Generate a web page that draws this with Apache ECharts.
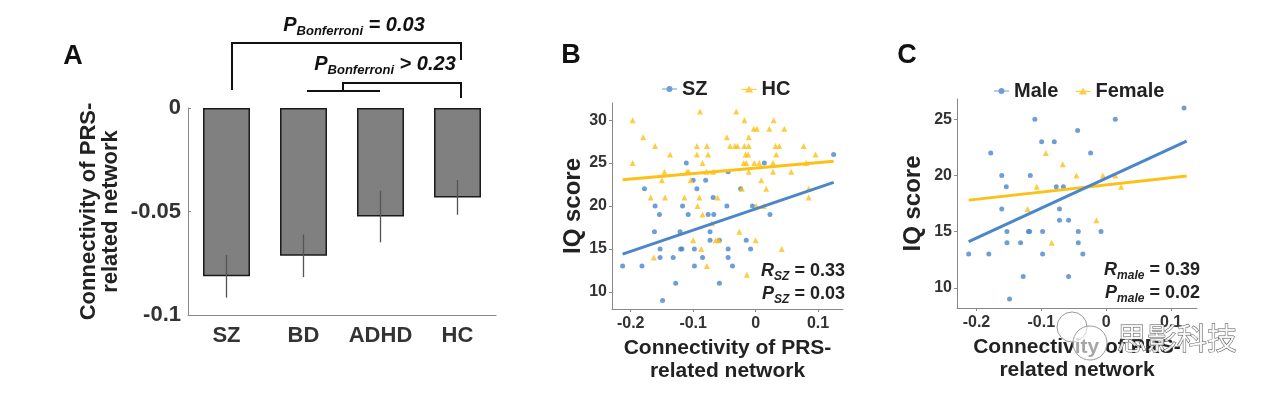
<!DOCTYPE html>
<html>
<head>
<meta charset="utf-8">
<script src="https://cdn.jsdelivr.net/npm/echarts@6/dist/echarts.min.js"></script>
<style>
  html, body { margin: 0; padding: 0; background: #fff; }
  #main { width: 1280px; height: 397px; }
</style>
</head>
<body>
<div id="main"></div>
<script>
// panel A: group means and error bars
const barCats = ['SZ', 'BD', 'ADHD', 'HC']
const barMeans = [-0.0813, -0.0714, -0.0524, -0.0432]
const barErr = [0.0103, 0.0103, 0.0125, 0.0084]

// shared tick labels
const xTicks = [-0.2, -0.1, 0, 0.1]
const yTicksB = [10, 15, 20, 25, 30]
const yTicksC = [10, 15, 20, 25]

// panel B: IQ vs connectivity
const szPoints = [
  [-0.213, 13], [-0.182, 13], [-0.178, 22], [-0.161, 20], [-0.154, 19], [-0.162, 17], [-0.153, 15],
  [-0.153, 14], [-0.132, 14], [-0.128, 11], [-0.149, 9], [-0.111, 25], [-0.117, 20], [-0.108, 19],
  [-0.121, 17], [-0.120, 15], [-0.118, 15], [-0.100, 23], [-0.094, 22], [-0.098, 15], [-0.098, 13],
  [-0.085, 14], [-0.080, 23], [-0.076, 19], [-0.067, 19], [-0.068, 21], [-0.073, 17], [-0.073, 16],
  [-0.058, 16], [-0.058, 11], [-0.046, 20], [-0.044, 24], [-0.044, 15], [-0.044, 14], [-0.037, 13],
  [-0.024, 22], [-0.015, 16], [-0.008, 15], [-0.005, 20], [0.014, 25], [0.023, 19], [0.125, 26]
]
const hcPoints = [
  [-0.197, 30], [-0.197, 25], [-0.180, 28], [-0.161, 27], [-0.168, 21], [-0.163, 14], [-0.145, 21],
  [-0.146, 24], [-0.150, 23], [-0.137, 26], [-0.114, 21], [-0.110, 24], [-0.107, 24], [-0.104, 23],
  [-0.100, 16], [-0.094, 27], [-0.094, 26], [-0.089, 31], [-0.090, 21], [-0.093, 20], [-0.085, 25],
  [-0.085, 19], [-0.087, 15], [-0.078, 13], [-0.078, 27], [-0.076, 26], [-0.079, 24], [-0.068, 24],
  [-0.070, 18], [-0.064, 16], [-0.061, 21], [-0.059, 16], [-0.046, 28], [-0.041, 27], [-0.031, 31],
  [-0.033, 27], [-0.029, 27], [-0.026, 17], [-0.022, 22], [-0.018, 30], [-0.018, 27], [-0.016, 26],
  [-0.012, 26], [-0.019, 25], [-0.015, 25], [-0.011, 28], [-0.011, 27], [-0.011, 24], [-0.014, 12],
  [-0.003, 29], [0.002, 29], [-0.002, 25], [0.006, 25], [0.001, 20], [0.000, 16], [0.009, 23],
  [0.017, 22], [0.013, 20], [0.022, 29], [0.029, 30], [0.028, 25], [0.028, 24], [0.032, 27],
  [0.038, 27], [0.033, 26], [0.042, 15], [0.046, 29], [0.057, 24], [0.077, 27], [0.081, 25],
  [0.085, 22], [0.085, 21], [0.096, 26]
]
const szFit = [[-0.213, 14.4], [0.125, 22.75]]
const hcFit = [[-0.213, 23.05], [0.125, 25.2]]

// panel C: IQ vs connectivity by sex
const malePoints = [
  [-0.212, 13], [-0.181, 13], [-0.178, 22], [-0.161, 20], [-0.154, 19], [-0.161, 17], [-0.153, 15],
  [-0.153, 14], [-0.132, 14], [-0.128, 11], [-0.149, 9], [-0.110, 25], [-0.117, 20], [-0.120, 15],
  [-0.118, 15], [-0.0995, 23], [-0.098, 15], [-0.098, 13], [-0.080, 23], [-0.077, 19], [-0.066, 19],
  [-0.072, 17], [-0.072, 16], [-0.058, 16], [-0.058, 11], [-0.044, 24], [-0.043, 15], [-0.043, 14],
  [-0.036, 13], [-0.024, 22], [-0.008, 15], [0.014, 25], [0.120, 26]
]
const femalePoints = [
  [-0.121, 17], [-0.107, 19], [-0.093, 22], [-0.084, 14], [-0.067, 21], [-0.046, 20],
  [-0.015, 16], [-0.005, 20], [0.014, 20], [0.023, 19]
]
const maleFit = [[-0.212, 14.1], [0.124, 23.05]]
const femaleFit = [[-0.212, 17.8], [0.124, 19.95]]

const FONT = "'Liberation Sans', Arial, sans-serif"
const BLUE = '#4a86c8'
const YELLOW = '#fbc117'
const circleIcon = 'path://M0,4.2H20V5.8H0Z M14,5A4,4 0 1,1 6,5A4,4 0 1,1 14,5Z'
const triIcon = 'path://M0,4.2H20V5.8H0Z M10,0L15.5,9H4.5Z'

const chart = echarts.init(document.getElementById('main'))

function valueXAxis (grid) {
  return {
    type: 'value', gridIndex: grid, min: -0.23, max: 0.14,
    name: 'Connectivity of PRS-\nrelated network', nameLocation: 'middle', nameGap: 28,
    nameTextStyle: { fontFamily: FONT, fontWeight: 'bold', fontSize: 21, color: '#222', lineHeight: 23 },
    axisLine: { onZero: false, lineStyle: { color: '#888' } },
    axisTick: { customValues: xTicks, length: 3, lineStyle: { color: '#888' } },
    axisLabel: { customValues: xTicks, margin: 7, fontFamily: FONT, fontWeight: 'bold', fontSize: 16, color: '#333' },
    splitLine: { show: false }
  }
}

function valueYAxis (grid, min, max, ticks, gap) {
  return {
    type: 'value', gridIndex: grid, min: min, max: max,
    name: 'IQ score', nameLocation: 'middle', nameGap: gap, nameRotate: 90,
    nameTextStyle: { fontFamily: FONT, fontWeight: 'bold', fontSize: 24, color: '#222' },
    axisLine: { show: true, onZero: false, lineStyle: { color: '#888' } },
    axisTick: { show: true, customValues: ticks, length: 3, lineStyle: { color: '#888' } },
    axisLabel: { customValues: ticks, margin: 5, fontFamily: FONT, fontWeight: 'bold', fontSize: 16, color: '#333' },
    splitLine: { show: false }
  }
}

function statText (x, y, letter, sub, val) {
  return {
    type: 'text', x: x, y: y,
    style: {
      text: '{a|' + letter + '}{b|' + sub + '}{c| = ' + val + '}',
      align: 'right', verticalAlign: 'middle',
      rich: {
        a: { fontFamily: FONT, fontWeight: 'bold', fontStyle: 'italic', fontSize: 18, fill: '#222' },
        b: { fontFamily: FONT, fontWeight: 'bold', fontStyle: 'italic', fontSize: 12, fill: '#222', padding: [12, 0, 0, 0] },
        c: { fontFamily: FONT, fontWeight: 'bold', fontSize: 18, fill: '#222' }
      }
    }
  }
}

function pText (x, y, rel, val) {
  return {
    type: 'text', x: x, y: y,
    style: {
      text: '{a|P}{b|Bonferroni}{c| ' + rel + ' ' + val + '}',
      align: 'center', verticalAlign: 'middle',
      rich: {
        a: { fontFamily: FONT, fontWeight: 'bold', fontStyle: 'italic', fontSize: 20, fill: '#111' },
        b: { fontFamily: FONT, fontWeight: 'bold', fontStyle: 'italic', fontSize: 13, fill: '#111', padding: [12, 0, 0, 0] },
        c: { fontFamily: FONT, fontWeight: 'bold', fontStyle: 'italic', fontSize: 20, fill: '#111' }
      }
    }
  }
}

const panelLetter = (t, x, y) => ({
  type: 'text', x: x, y: y,
  style: { text: t, fontFamily: FONT, fontWeight: 'bold', fontSize: 27, fill: '#111', align: 'center', verticalAlign: 'middle' }
})

chart.setOption({
  animation: false,
  backgroundColor: '#fff',
  grid: [
    { left: 188, top: 108, width: 308, height: 207 },
    { left: 612, top: 103, width: 231, height: 206 },
    { left: 957, top: 99, width: 240, height: 209 }
  ],
  legend: [
    {
      data: [{ name: 'SZ', icon: circleIcon }, { name: 'HC', icon: triIcon }],
      left: 662, top: 79, padding: 0, itemWidth: 15, itemHeight: 10, itemGap: 34,
      textStyle: { fontFamily: FONT, fontWeight: 'bold', fontSize: 20, color: '#222' }
    },
    {
      data: [{ name: 'Male', icon: circleIcon }, { name: 'Female', icon: triIcon }],
      left: 994, top: 81, padding: 0, itemWidth: 15, itemHeight: 10, itemGap: 17,
      textStyle: { fontFamily: FONT, fontWeight: 'bold', fontSize: 20, color: '#222' }
    }
  ],
  xAxis: [
    {
      type: 'category', gridIndex: 0, data: barCats,
      axisLine: { onZero: false, lineStyle: { color: '#888' } },
      axisTick: { alignWithLabel: true, inside: true, length: 3, lineStyle: { color: '#888' } },
      axisLabel: { interval: 0, margin: 10, fontFamily: FONT, fontWeight: 'bold', fontSize: 22, color: '#333' }
    },
    valueXAxis(1),
    valueXAxis(2)
  ],
  yAxis: [
    {
      type: 'value', gridIndex: 0, min: -0.1, max: 0, interval: 0.05,
      name: 'Connectivity of PRS-\nrelated network', nameLocation: 'middle', nameRotate: 90, nameGap: 66,
      nameTextStyle: { fontFamily: FONT, fontWeight: 'bold', fontSize: 22, color: '#222', lineHeight: 22 },
      axisLine: { show: true, onZero: false, lineStyle: { color: '#888' } },
      axisTick: { show: true, inside: true, length: 3, lineStyle: { color: '#888' } },
      axisLabel: { margin: 7, fontFamily: FONT, fontWeight: 'bold', fontSize: 22, color: '#333' },
      splitLine: { show: false }
    },
    valueYAxis(1, 8, 32, yTicksB, 26),
    valueYAxis(2, 8.2, 26.8, yTicksC, 32)
  ],
  series: [
    {
      type: 'bar', xAxisIndex: 0, yAxisIndex: 0, data: barMeans, barWidth: '61%',
      itemStyle: { color: '#808080', borderColor: '#1a1a1a', borderWidth: 1.5 }
    },
    {
      type: 'custom', xAxisIndex: 0, yAxisIndex: 0,
      data: barMeans.map((m, i) => [i, m, barErr[i]]),
      renderItem (params, api) {
        const top = api.coord([api.value(0), api.value(1) + api.value(2)])
        const bot = api.coord([api.value(0), api.value(1) - api.value(2)])
        return {
          type: 'line',
          shape: { x1: top[0], y1: top[1], x2: bot[0], y2: bot[1] },
          style: { stroke: '#555', lineWidth: 1.3 }
        }
      },
      z: 5
    },
    { name: 'SZ', type: 'scatter', xAxisIndex: 1, yAxisIndex: 1, data: szPoints, symbol: 'circle', symbolSize: 5, itemStyle: { color: BLUE } },
    { name: 'HC', type: 'scatter', xAxisIndex: 1, yAxisIndex: 1, data: hcPoints, symbol: 'triangle', symbolSize: 6, itemStyle: { color: YELLOW } },
    { type: 'line', xAxisIndex: 1, yAxisIndex: 1, data: hcFit, showSymbol: false, silent: true, lineStyle: { color: YELLOW, width: 3 }, z: 4 },
    { type: 'line', xAxisIndex: 1, yAxisIndex: 1, data: szFit, showSymbol: false, silent: true, lineStyle: { color: BLUE, width: 3 }, z: 4 },
    { name: 'Male', type: 'scatter', xAxisIndex: 2, yAxisIndex: 2, data: malePoints, symbol: 'circle', symbolSize: 5, itemStyle: { color: BLUE } },
    { name: 'Female', type: 'scatter', xAxisIndex: 2, yAxisIndex: 2, data: femalePoints, symbol: 'triangle', symbolSize: 6, itemStyle: { color: YELLOW } },
    { type: 'line', xAxisIndex: 2, yAxisIndex: 2, data: femaleFit, showSymbol: false, silent: true, lineStyle: { color: YELLOW, width: 3 }, z: 4 },
    { type: 'line', xAxisIndex: 2, yAxisIndex: 2, data: maleFit, showSymbol: false, silent: true, lineStyle: { color: BLUE, width: 3 }, z: 4 }
  ],
  graphic: [
    panelLetter('A', 73, 57),
    panelLetter('B', 571, 56),
    panelLetter('C', 907, 56),
    // significance brackets
    { type: 'polyline', shape: { points: [[232, 90], [232, 43], [461, 43], [461, 60]] }, style: { stroke: '#111', lineWidth: 2, fill: null } },
    { type: 'line', shape: { x1: 307, y1: 91, x2: 380, y2: 91 }, style: { stroke: '#111', lineWidth: 2 } },
    { type: 'polyline', shape: { points: [[343, 91], [343, 83], [461, 83], [461, 98]] }, style: { stroke: '#111', lineWidth: 2, fill: null } },
    pText(354, 25, '=', '0.03'),
    pText(385, 64, '>', '0.23'),
    statText(845, 271, 'R', 'SZ', '0.33'),
    statText(845, 294, 'P', 'SZ', '0.03'),
    statText(1200, 270, 'R', 'male', '0.39'),
    statText(1200, 293, 'P', 'male', '0.02'),
    // watermark
    { type: 'circle', shape: { cx: 1072, cy: 327, r: 15 }, style: { fill: 'rgba(255,255,255,0.6)', stroke: '#999', lineWidth: 1 }, z: 100 },
    { type: 'circle', shape: { cx: 1090, cy: 343, r: 17 }, style: { fill: 'rgba(255,255,255,0.6)', stroke: '#999', lineWidth: 1 }, z: 100 },
    {
      type: 'text', x: 1177, y: 338, z: 100,
      style: { text: '思影科技', fontFamily: "'Noto Sans CJK SC', sans-serif", fontSize: 30, fill: 'rgba(255,255,255,0.85)', stroke: '#555', lineWidth: 1, align: 'center', verticalAlign: 'middle' }
    }
  ]
})
</script>
</body>
</html>
